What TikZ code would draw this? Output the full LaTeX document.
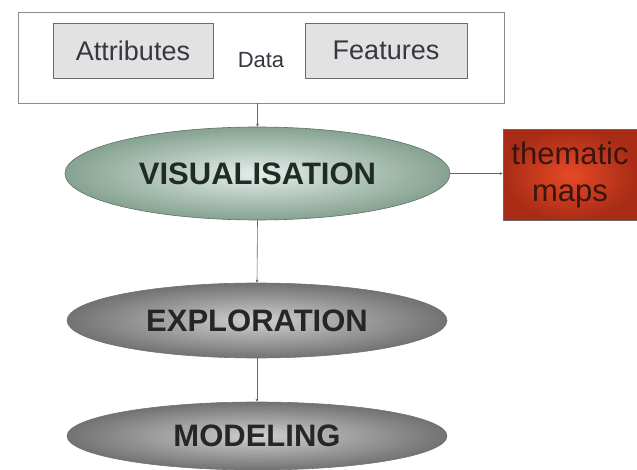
\documentclass[tikz,border=0pt]{standalone}
\usepackage{fontspec}
\setmainfont{Liberation Sans}
\usetikzlibrary{shapes.geometric,arrows.meta}
\definecolor{boxfill}{HTML}{E2E2E2}
\definecolor{boxline}{HTML}{6A6A70}
\definecolor{txtdark}{HTML}{3A3540}
\definecolor{visout}{HTML}{86A291}
\definecolor{visin}{HTML}{E4EEEB}
\definecolor{vistxt}{HTML}{1F2B23}
\definecolor{greyout}{HTML}{727272}
\definecolor{greyin}{HTML}{D0D0D0}
\definecolor{redout}{HTML}{A82C16}
\definecolor{redin}{HTML}{E64A26}
\definecolor{redtxt}{HTML}{3A1510}
\tikzset{
  x=1pt, y=-1pt,
  subbox/.style={draw=boxline, line width=0.8pt, fill=boxfill, inner sep=0pt,
    minimum width=160pt, minimum height=55pt, font=\fontsize{27}{30}\selectfont, text=txtdark},
  visell/.style={ellipse, draw=visout!70!black, line width=0.6pt, shading=radial,
    inner color=visin, outer color=visout, inner sep=0pt,
    minimum width=385pt, minimum height=93pt,
    font=\fontsize{31}{34}\selectfont\bfseries, text=vistxt},
  greyell/.style={ellipse, draw=black!55, line width=0.6pt, shading=radial,
    inner color=greyin, outer color=greyout, inner sep=0pt,
    minimum width=380pt, font=\fontsize{31}{34}\selectfont\bfseries, text=black!85},
  redbox/.style={draw=black!60, line width=0.6pt, shading=radial,
    inner color=redin, outer color=redout, inner sep=0pt,
    minimum width=134pt, minimum height=91pt, align=center,
    font=\fontsize{31}{37}\selectfont, text=redtxt},
  conn/.style={draw=black!60, line width=0.6pt, -{Stealth[length=3pt,width=3pt]}}
}
\begin{document}
\begin{tikzpicture}
\useasboundingbox (0,0) rectangle (637,470);
\node[draw=black!45, line width=0.8pt, fill=white, minimum width=486pt, minimum height=91pt, inner sep=0pt] (datab) at (261,57.5) {};
\node[subbox] (attr) at (133,50.5) {Attributes};
\node[subbox, minimum width=162pt] (feat) at (386,50.5) {Features};
\node[font=\fontsize{22}{24}\selectfont, text=txtdark] (datat) at (261,60) {Data};
\node[visell] (vis) at (257.5,173.5) {VISUALISATION};
\node[redbox] (maps) at (570,175) {thematic\\maps};
\node[greyell, minimum height=75pt] (expl) at (257,320.5) {EXPLORATION};
\node[greyell, minimum height=68pt] (model) at (257,436) {MODELING};
\draw[conn] (vis.north |- datab.south) -- (vis.north);
\draw[conn] (vis.south) -- (expl.north);
\draw[conn] (expl.south) -- (model.north);
\draw[conn] (vis.east) -- (vis.east -| maps.west);
\end{tikzpicture}
\end{document}
